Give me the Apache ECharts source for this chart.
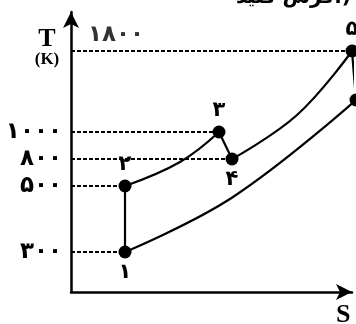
<!DOCTYPE html>
<html>
<head>
<meta charset="utf-8">
<script src="https://cdn.jsdelivr.net/npm/echarts@6/dist/echarts.min.js"></script>
<style>
  html, body { margin: 0; padding: 0; background: #fff; }
  #chart { width: 356px; height: 324px; }
</style>
</head>
<body>
<div id="chart"></div>
<script>
// temperatures on the T axis and where they sit on the (schematic) axis
const temps = [300, 500, 800, 1000, 1800];
const tLevel = [40, 106, 133, 160, 241];

// state points 1..6 (S is schematic, no scale)
const stateNames = ['1', '2', '3', '4', '5', '6'];
const stateS = [54, 54, 148, 161, 281, 285];
const stateH = [40, 106, 160, 133, 241, 192];
// which temperature line each of the first five states sits on
const stateTemp = [300, 500, 1000, 800, 1800];

// process curves: start, a point read mid-way, end
const path12 = [[54, 40], [54, 106]];
const path23 = [[54, 106], [109, 130], [148, 160]];
const path34 = [[148, 160], [161, 133]];
const path45 = [[161, 133], [226, 177], [281, 241]];
const path56 = [[281, 241], [285, 192]];
const path16 = [[54, 40], [162, 95], [285, 192]];

const fa = (v) => String(v).replace(/\d/g, (d) => '۰۱۲۳۴۵۶۷۸۹'[d]);
const font = '"DejaVu Sans", sans-serif';

const chart = echarts.init(document.getElementById('chart'));

const lineStyle = { color: '#000', width: 2.2 };
const curve = (data, smooth) => ({
  type: 'line', data, smooth, symbol: 'none', clip: false,
  lineStyle, silent: true, z: 3
});

// dashed guide lines from the T axis to each state
const guides = temps.map((t, i) => {
  const k = stateTemp.indexOf(t);
  return {
    type: 'line', symbol: 'none', silent: true, clip: false,
    data: [[0, tLevel[i]], [stateS[k], tLevel[i]]],
    lineStyle: { color: '#000', width: 2, type: [4, 2] }, z: 2
  };
});

const labelPos = ['bottom', 'top', 'top', 'bottom', 'top', 'right'];

chart.setOption({
  animation: false,
  grid: { left: 71, right: 4, top: 12, bottom: 32 },
  xAxis: {
    type: 'value', min: 0, max: 281,
    axisLine: { lineStyle: { color: '#000', width: 2.5 }, symbol: ['none', 'arrow'], symbolSize: [12, 16] },
    axisTick: { show: false }, axisLabel: { show: false }, splitLine: { show: false }
  },
  yAxis: {
    type: 'value', min: 0, max: 280,
    axisLine: { onZero: false, lineStyle: { color: '#000', width: 2.5 }, symbol: ['none', 'arrow'], symbolSize: [12, 16] },
    axisTick: { show: false }, splitLine: { show: false },
    axisLabel: {
      customValues: tLevel.slice(0, 4),
      formatter: (v) => fa(temps[tLevel.indexOf(v)]),
      color: '#000', fontFamily: font, fontWeight: 'bold', fontSize: 23, margin: 9
    }
  },
  graphic: [
    { type: 'text', x: 47, y: 26, style: { text: 'T', align: 'center', font: 'bold 26px "Liberation Serif", serif', fill: '#000' } },
    { type: 'text', x: 47, y: 51, style: { text: '(K)', align: 'center', font: 'bold 17px "Liberation Serif", serif', fill: '#000' } },
    { type: 'text', x: 336, y: 302, style: { text: 'S', font: 'bold 26px "Liberation Serif", serif', fill: '#000' } },
    { type: 'text', x: 236, y: -12, style: { text: 'کرش کنید.)', font: 'bold 20px ' + font, fill: '#000' } }
  ],
  series: [
    ...guides,
    curve(path12, false),
    curve(path23, 0.4),
    curve(path34, false),
    curve(path45, 0.4),
    curve(path56, false),
    curve(path16, 0.4),
    {
      type: 'scatter', clip: false, symbolSize: 13, z: 5,
      itemStyle: { color: '#000', opacity: 1 },
      data: stateS.map((s, i) => ({
        value: [s, stateH[i]],
        label: { show: i < 5, position: labelPos[i], distance: 4 }
      })),
      label: {
        formatter: (p) => fa(stateNames[p.dataIndex]),
        color: '#000', fontFamily: font, fontWeight: 'bold', fontSize: 21
      }
    },
    {
      // the 1800 label sits right of the axis, above its guide line
      type: 'scatter', clip: false, symbolSize: 0, silent: true,
      data: [[0, tLevel[4]]],
      label: {
        show: true, position: 'right', offset: [12, -16],
        formatter: () => fa(temps[4]),
        color: '#000', fontFamily: font, fontWeight: 'bold', fontSize: 23
      }
    }
  ]
});
</script>
</body>
</html>
